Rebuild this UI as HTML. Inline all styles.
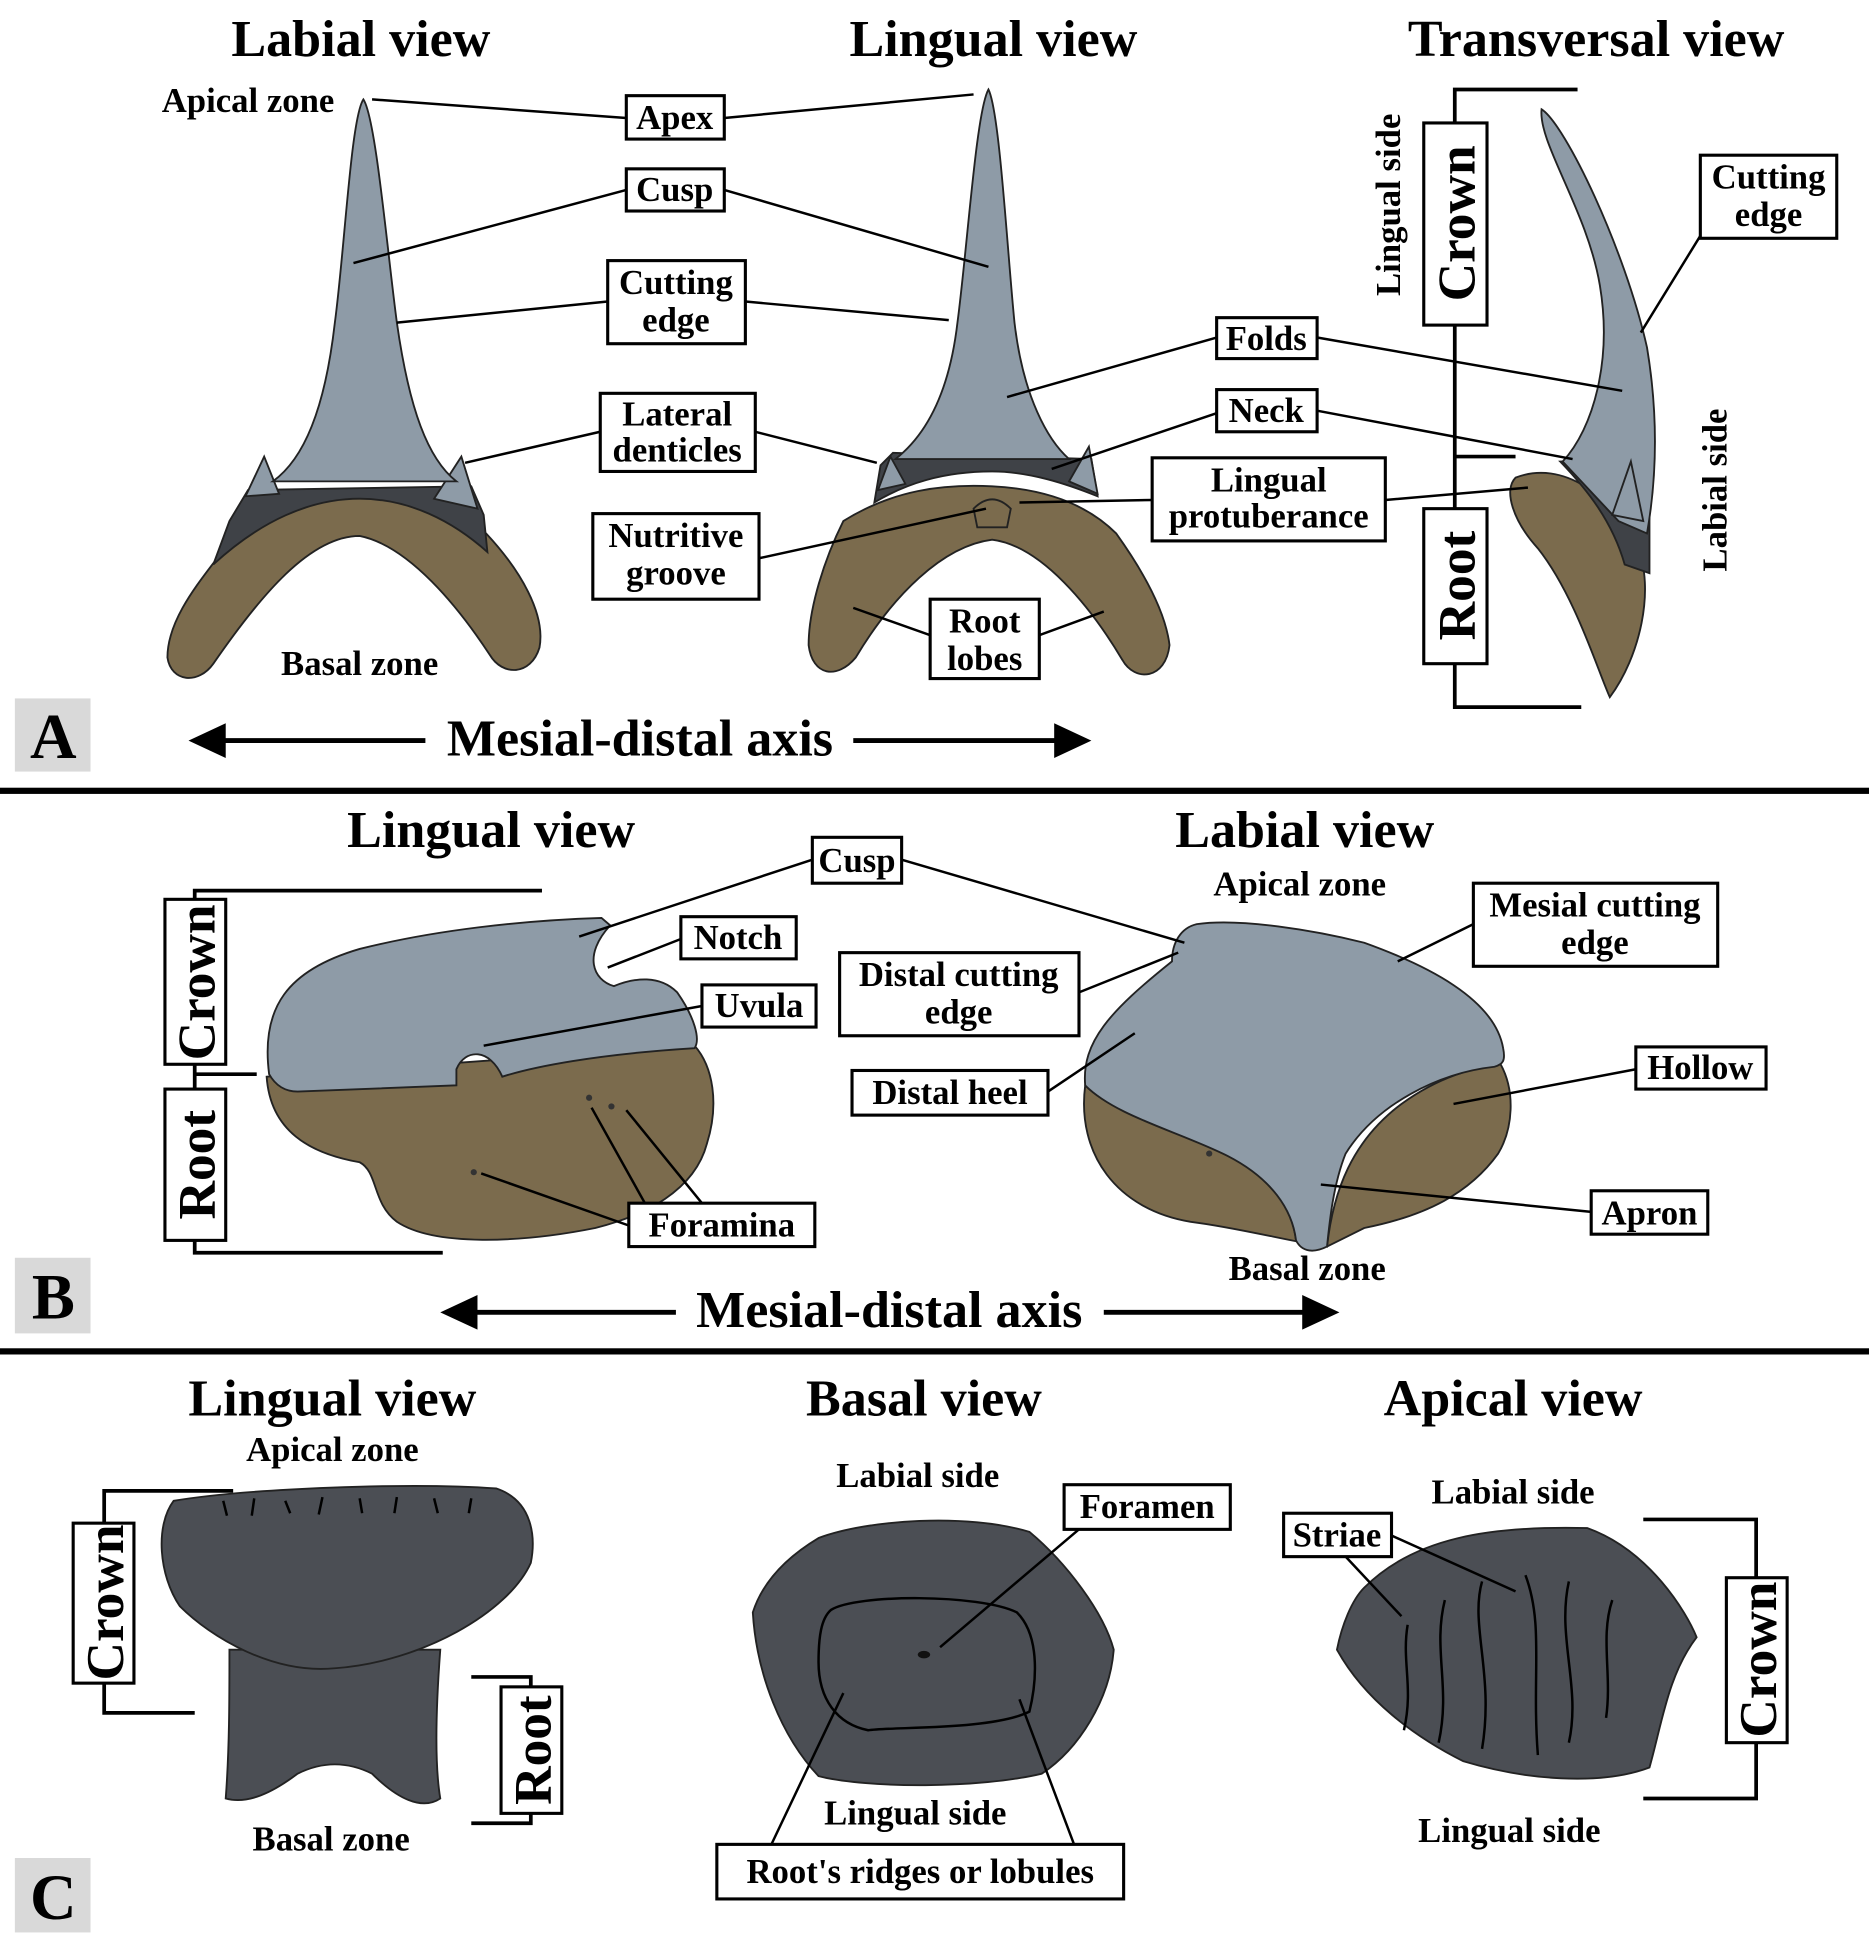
<!DOCTYPE html>
<html><head><meta charset="utf-8"><style>
html,body{margin:0;padding:0;background:#fff}
svg{display:block}
text{font-family:"Liberation Serif",serif;font-weight:bold;fill:#000}
.t{font-size:42px;text-anchor:middle}
.l{font-size:28px;text-anchor:middle}
.b{fill:#fff;stroke:#000;stroke-width:2.5}
.ln{stroke:#000;stroke-width:2;fill:none}
.br{stroke:#000;stroke-width:3;fill:none}
.g{fill:#8e9ba7;stroke:#222;stroke-width:1.5}
.n{fill:#3f4247;stroke:#222;stroke-width:1.5}
.r{fill:#7b6b4d;stroke:#222;stroke-width:1.5}
.d{fill:#4b4e54;stroke:#222;stroke-width:1.5}
.v{font-size:43px;text-anchor:middle}
</style></head><body>
<svg width="1869" height="1945" viewBox="0 0 1507 1568" xmlns="http://www.w3.org/2000/svg">
<text class="t" x="291" y="45">Labial view</text>
<text class="t" x="801" y="45">Lingual view</text>
<text class="t" x="1287" y="45">Transversal view</text>
<text class="l" x="200" y="90">Apical zone</text>
<text class="l" x="290" y="544">Basal zone</text>

<path class="r" d="M175,450 C210,418 250,400 290,400 C330,400 365,412 392,430 C420,460 440,495 435,522 C428,545 405,545 395,528 C370,490 330,440 290,432 C250,432 210,480 172,535 C160,552 138,550 135,530 C135,500 160,470 175,450 Z"/>
<path class="n" d="M172,455 L185,420 L200,395 L380,392 L390,415 L393,445 C365,420 330,402 290,402 C250,402 210,420 172,455 Z"/>
<path class="g" d="M198,400 L213,368 L225,398 Z M350,402 L372,368 L385,410 Z"/>
<path class="g" d="M293,80 C303,95 312,200 320,260 C330,330 345,370 368,388 L220,388 C245,370 262,330 270,260 C278,200 283,95 293,80 Z"/>

<path class="r" d="M680,420 C720,395 760,390 800,392 C840,394 875,405 900,430 C925,465 940,495 943,520 C940,548 915,550 905,532 C880,490 840,440 800,435 C760,440 720,480 690,530 C675,548 655,545 652,520 C652,490 665,450 680,420 Z"/>
<path class="n" d="M710,375 L720,365 L880,370 L885,400 C860,390 830,380 800,380 C760,380 730,390 705,405 Z"/>
<path class="r" d="M785,410 C795,400 805,400 815,410 L812,425 L788,425 Z"/>
<path class="g" d="M708,395 L718,368 L730,390 Z M862,388 L878,360 L885,398 Z"/>
<path class="g" d="M797,72 C806,90 812,200 818,260 C825,320 845,355 862,370 L722,370 C745,352 765,320 772,260 C780,200 787,90 797,72 Z"/>

<path class="r" d="M1222,385 C1260,370 1300,400 1320,440 C1335,475 1322,530 1298,562 C1288,540 1270,480 1240,442 C1220,420 1212,395 1222,385 Z"/>
<path class="n" d="M1258,372 L1300,370 L1330,400 L1330,462 L1310,455 C1300,420 1280,395 1258,372 Z"/>
<path class="g" d="M1243,88 C1262,100 1310,200 1328,280 C1338,340 1335,390 1328,430 L1305,420 L1260,372 C1285,345 1300,290 1290,230 C1280,170 1240,115 1243,88 Z"/>
<path class="g" d="M1300,415 L1315,372 L1325,420 Z"/>

<path class="ln" d="M300,80 L505,95 M584,95 L785,76 M285,212 L505,153 M584,153 L797,215 M320,260 L490,243 M601,243 L765,258 M375,373 L484,348 M609,348 L707,373 M812,320 L981,272 M1062,272 L1308,315 M848,378 L981,333 M1062,331 L1268,370 M822,405 L929,403 M1117,403 L1232,393 M612,450 L795,410 M688,490 L750,512 M838,512 L890,493 M1371,190 L1323,268"/>
<rect class="b" x="505" y="77" width="79" height="35"/><text class="l" x="544" y="104">Apex</text>
<rect class="b" x="505" y="136" width="79" height="34"/><text class="l" x="544" y="162">Cusp</text>
<rect class="b" x="490" y="210" width="111" height="67"/><text class="l" x="545" y="237">Cutting</text><text class="l" x="545" y="267">edge</text>
<rect class="b" x="484" y="317" width="125" height="63"/><text class="l" x="546" y="343">Lateral</text><text class="l" x="546" y="372">denticles</text>
<rect class="b" x="478" y="414" width="134" height="69"/><text class="l" x="545" y="441">Nutritive</text><text class="l" x="545" y="471">groove</text>
<rect class="b" x="750" y="483" width="88" height="64"/><text class="l" x="794" y="510">Root</text><text class="l" x="794" y="540">lobes</text>
<rect class="b" x="981" y="256" width="81" height="33"/><text class="l" x="1021" y="282">Folds</text>
<rect class="b" x="981" y="314" width="81" height="34"/><text class="l" x="1021" y="340">Neck</text>
<rect class="b" x="929" y="369" width="188" height="67"/><text class="l" x="1023" y="396">Lingual</text><text class="l" x="1023" y="425">protuberance</text>
<rect class="b" x="1371" y="125" width="110" height="67"/><text class="l" x="1426" y="152">Cutting</text><text class="l" x="1426" y="182">edge</text>

<path class="br" d="M1272,72 L1173,72 L1173,570 L1275,570 M1173,368 L1222,368"/>
<rect class="b" x="1148" y="99" width="51" height="163"/><text class="v" transform="translate(1189,180) rotate(-90)">Crown</text>
<rect class="b" x="1148" y="410" width="51" height="125"/><text class="v" transform="translate(1189,472) rotate(-90)">Root</text>
<text class="l" transform="translate(1129,165) rotate(-90)">Lingual side</text>
<text class="l" transform="translate(1392,395) rotate(-90)">Labial side</text>

<rect x="12" y="563" width="61" height="59" fill="#d9d9d9"/><text x="43" y="611" style="font-size:52px;text-anchor:middle">A</text>
<text class="t" x="516" y="609">Mesial-distal axis</text>
<path d="M172,597 L343,597 M688,597 L860,597" stroke="#000" stroke-width="4"/>
<path d="M152,597 L182,583 L182,611 Z M880,597 L850,583 L850,611 Z"/>
<rect x="0" y="635" width="1507" height="5"/>

<text class="t" x="396" y="683">Lingual view</text>
<text class="t" x="1052" y="683">Labial view</text>
<text class="l" x="1048" y="722">Apical zone</text>
<text class="l" x="1054" y="1032">Basal zone</text>
<path class="br" d="M437,718 L157,718 L157,1010 L357,1010 M157,866 L207,866"/>
<rect class="b" x="133" y="725" width="49" height="133"/><text class="v" transform="translate(173,792) rotate(-90)">Crown</text>
<rect class="b" x="133" y="878" width="49" height="122"/><text class="v" transform="translate(173,939) rotate(-90)">Root</text>

<path class="r" d="M215,868 L560,843 C575,860 580,890 570,922 C560,960 520,980 480,990 C420,1002 350,1005 320,985 C300,970 305,945 290,937 C250,930 218,912 215,868 Z"/>
<path class="g" d="M217,866 C210,812 232,782 290,765 C350,750 420,742 485,740 L492,746 C470,770 478,790 495,795 C512,788 532,786 546,800 C560,820 565,838 560,845 C480,850 430,860 405,868 C395,845 375,845 368,862 L368,875 L240,880 C230,880 222,875 217,866 Z"/>
<circle cx="475" cy="885" r="2.5" fill="#333"/><circle cx="493" cy="892" r="2.5" fill="#333"/><circle cx="382" cy="945" r="2.5" fill="#333"/>

<path class="r" d="M875,875 C900,900 950,910 990,930 C1025,948 1042,975 1045,1000 L1070,1005 C1075,960 1090,920 1130,890 C1160,868 1190,860 1210,858 C1222,880 1220,910 1208,930 C1185,962 1150,980 1100,990 L1070,1005 C1045,1002 1000,990 960,985 C900,975 868,930 875,875 Z"/>
<path class="g" d="M875,875 C872,840 895,815 945,775 C945,760 952,748 965,745 C1000,740 1060,750 1100,760 C1150,778 1205,805 1212,845 C1214,855 1212,858 1205,860 C1160,865 1110,890 1085,930 C1075,955 1072,985 1070,1005 C1060,1010 1050,1010 1045,1000 C1042,975 1025,950 990,932 C950,912 900,900 875,875 Z"/>
<circle cx="975" cy="930" r="2.5" fill="#333"/>

<path class="ln" d="M467,755 L655,693 M727,693 L955,760 M490,780 L549,757 M390,843 L566,811 M477,893 L520,970 M505,895 L566,970 M388,946 L507,988 M870,800 L950,768 M845,880 L915,833 M1127,775 L1188,745 M1172,890 L1319,862 M1065,955 L1283,977"/>
<rect class="b" x="655" y="675" width="72" height="37"/><text class="l" x="691" y="703">Cusp</text>
<rect class="b" x="549" y="739" width="93" height="34"/><text class="l" x="595" y="765">Notch</text>
<rect class="b" x="566" y="794" width="92" height="34"/><text class="l" x="612" y="820">Uvula</text>
<rect class="b" x="507" y="970" width="150" height="35"/><text class="l" x="582" y="997">Foramina</text>
<rect class="b" x="677" y="768" width="193" height="67"/><text class="l" x="773" y="795">Distal cutting</text><text class="l" x="773" y="825">edge</text>
<rect class="b" x="687" y="863" width="158" height="36"/><text class="l" x="766" y="890">Distal heel</text>
<rect class="b" x="1188" y="712" width="197" height="67"/><text class="l" x="1286" y="739">Mesial cutting</text><text class="l" x="1286" y="769">edge</text>
<rect class="b" x="1319" y="844" width="105" height="34"/><text class="l" x="1371" y="870">Hollow</text>
<rect class="b" x="1283" y="960" width="94" height="35"/><text class="l" x="1330" y="987">Apron</text>

<rect x="12" y="1014" width="61" height="61" fill="#d9d9d9"/><text x="43" y="1063" style="font-size:52px;text-anchor:middle">B</text>
<text class="t" x="717" y="1070">Mesial-distal axis</text>
<path d="M375,1058 L545,1058 M890,1058 L1060,1058" stroke="#000" stroke-width="4"/>
<path d="M355,1058 L385,1044 L385,1072 Z M1080,1058 L1050,1044 L1050,1072 Z"/>
<rect x="0" y="1087" width="1507" height="5"/>

<text class="t" x="268" y="1141">Lingual view</text>
<text class="t" x="745" y="1141">Basal view</text>
<text class="t" x="1220" y="1141">Apical view</text>
<text class="l" x="268" y="1178">Apical zone</text>
<text class="l" x="267" y="1492">Basal zone</text>
<text class="l" x="740" y="1199">Labial side</text>
<text class="l" x="738" y="1471">Lingual side</text>
<text class="l" x="1220" y="1212">Labial side</text>
<text class="l" x="1217" y="1485">Lingual side</text>

<path class="br" d="M188,1202 L84,1202 L84,1381 L157,1381 M380,1352 L428,1352 L428,1470 L380,1470 M1325,1225 L1416,1225 L1416,1450 L1325,1450"/>
<rect class="b" x="59" y="1228" width="49" height="129"/><text class="v" transform="translate(99,1292) rotate(-90)">Crown</text>
<rect class="b" x="404" y="1360" width="49" height="102"/><text class="v" transform="translate(444,1411) rotate(-90)">Root</text>
<rect class="b" x="1392" y="1272" width="49" height="133"/><text class="v" transform="translate(1432,1338) rotate(-90)">Crown</text>

<path class="d" d="M185,1330 L355,1330 C352,1370 350,1420 355,1450 C340,1460 320,1450 300,1430 C280,1420 260,1420 240,1430 C220,1445 200,1455 182,1450 C185,1410 185,1370 185,1330 Z"/>
<path class="d" d="M140,1210 C200,1200 330,1195 400,1200 C430,1210 432,1240 428,1260 C410,1300 340,1340 270,1345 C220,1350 170,1320 145,1295 C128,1270 125,1230 140,1210 Z"/>
<path class="ln" d="M180,1210 l3,12 M205,1208 l-2,14 M230,1210 l4,10 M260,1207 l-3,14 M290,1208 l2,12 M320,1207 l-2,13 M350,1208 l3,12 M380,1208 l-2,12" stroke="#222" stroke-width="1.3"/>

<path class="d" d="M660,1240 C700,1225 780,1220 830,1235 C860,1260 890,1300 898,1330 C895,1370 870,1410 840,1430 C790,1442 700,1442 660,1432 C630,1400 610,1350 607,1300 C615,1275 635,1255 660,1240 Z"/>
<path class="ln" d="M670,1298 C690,1285 790,1285 820,1300 C840,1320 835,1360 830,1380 C800,1395 720,1392 700,1395 C675,1390 660,1370 660,1340 C660,1320 662,1305 670,1298 Z" stroke="#111"/>
<ellipse cx="745" cy="1334" rx="5" ry="3" fill="#111"/>

<path class="d" d="M1100,1280 C1140,1240 1200,1230 1280,1232 C1330,1250 1360,1300 1368,1320 C1345,1350 1340,1390 1330,1425 C1290,1440 1230,1435 1180,1420 C1140,1400 1100,1370 1078,1330 C1082,1310 1090,1290 1100,1280 Z"/>
<path class="ln" stroke="#222" stroke-width="1.5" d="M1135,1310 C1130,1340 1140,1360 1132,1395 M1165,1290 C1155,1330 1170,1360 1160,1405 M1195,1275 C1185,1310 1205,1350 1195,1410 M1230,1270 C1245,1310 1235,1350 1240,1415 M1265,1275 C1255,1320 1275,1360 1265,1405 M1300,1290 C1290,1320 1300,1350 1295,1385"/>

<path class="ln" d="M758,1328 L870,1233 M680,1365 L622,1487 M822,1370 L866,1487 M1085,1255 L1130,1303 M1122,1238 L1222,1283"/>
<rect class="b" x="858" y="1197" width="134" height="36"/><text class="l" x="925" y="1224">Foramen</text>
<rect class="b" x="578" y="1487" width="328" height="44"/><text class="l" x="742" y="1518">Root's ridges or lobules</text>
<rect class="b" x="1035" y="1220" width="87" height="35"/><text class="l" x="1078" y="1247">Striae</text>

<rect x="12" y="1498" width="61" height="60" fill="#d9d9d9"/><text x="43" y="1547" style="font-size:52px;text-anchor:middle">C</text>
</svg>
</body></html>
